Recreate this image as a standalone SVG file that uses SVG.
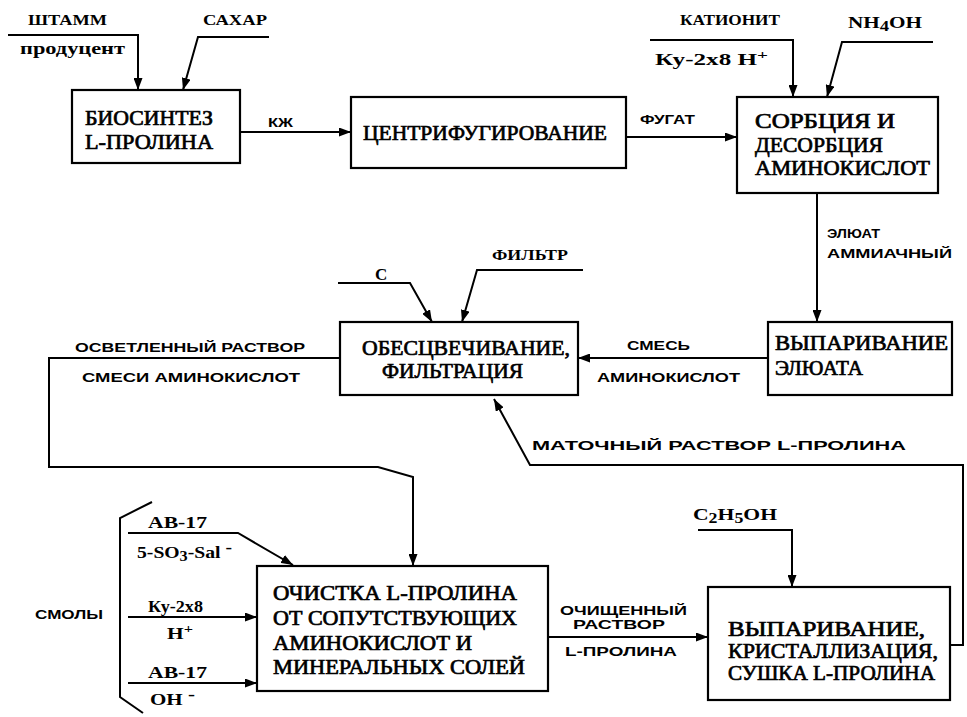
<svg xmlns="http://www.w3.org/2000/svg" width="967" height="717" viewBox="0 0 967 717">
<defs>
<marker id="ah" markerUnits="userSpaceOnUse" markerWidth="13" markerHeight="9" refX="12" refY="4.5" orient="auto">
<path d="M0,0 L12,4.5 L0,9 z" fill="#000"/>
</marker>
<style>
.box{fill:#fff;stroke:#000;stroke-width:2.2}
.ln{fill:none;stroke:#000;stroke-width:2}
.arr{fill:none;stroke:#000;stroke-width:2;marker-end:url(#ah)}
.bt{font-family:"Liberation Serif",serif;font-weight:normal;font-size:21px;fill:#000;stroke:#000;stroke-width:0.7}
.ss{font-family:"Liberation Sans",sans-serif;font-weight:bold;font-size:13px;fill:#000}
.sr{font-family:"Liberation Serif",serif;font-weight:bold;font-size:17px;fill:#000}
.sm{font-family:"Liberation Serif",serif;font-weight:bold;font-size:15px;fill:#000}
</style>
</defs>
<rect width="967" height="717" fill="#fff"/>

<g id="connectors">
<polyline class="arr" points="8,35 138,35 138,90"/>
<polyline class="arr" points="269,37 198,37 183,90"/>
<line class="arr" x1="240" y1="132" x2="351" y2="132"/>
<line class="arr" x1="626" y1="137" x2="737" y2="137"/>
<polyline class="arr" points="650,40 793,40 793,97"/>
<polyline class="arr" points="933,42 842,42 827,97"/>
<line class="arr" x1="817" y1="193" x2="817" y2="322"/>
<line class="arr" x1="768" y1="358" x2="578" y2="358"/>
<polyline class="arr" points="338,283 410,283 432,322"/>
<polyline class="arr" points="583,270 477,270 462,322"/>
<polyline class="arr" points="340,358 49,358 49,467 378,467 413,477 413,566"/>
<polyline class="arr" points="128,533 238,533 293,565"/>
<line class="arr" x1="128" y1="617" x2="257" y2="617"/>
<line class="arr" x1="128" y1="683" x2="257" y2="683"/>
<polyline class="ln" points="152,502 120,518 120,697 143,713"/>
<line class="arr" x1="548" y1="637" x2="708" y2="637"/>
<polyline class="arr" points="698,530 792,530 792,587"/>
<polyline class="arr" points="950,645 963,645 963,465 530,465 494,399"/>

<text class="sm" x="28" y="25" textLength="79" lengthAdjust="spacingAndGlyphs">ШТАММ</text>
<text class="sr" x="20" y="54" textLength="105" lengthAdjust="spacingAndGlyphs">продуцент</text>
<text class="sm" x="203" y="25" textLength="64" lengthAdjust="spacingAndGlyphs">САХАР</text>
<text class="ss" x="268" y="127" font-size="12" textLength="25" lengthAdjust="spacingAndGlyphs">КЖ</text>
<text class="ss" x="640" y="124" font-size="12" textLength="55" lengthAdjust="spacingAndGlyphs">ФУГАТ</text>
<text class="sm" x="680" y="25" textLength="100" lengthAdjust="spacingAndGlyphs">КАТИОНИТ</text>
<text class="sr" x="655" y="65" font-size="18" textLength="113" lengthAdjust="spacingAndGlyphs">Ку-2х8  Н<tspan dy="-6" font-size="13">+</tspan></text>
<text class="sr" x="848" y="28" font-size="19" font-weight="normal" textLength="74" lengthAdjust="spacingAndGlyphs">NH<tspan dy="3" font-size="15">4</tspan><tspan dy="-3">OH</tspan></text>
<text class="ss" x="827" y="238" textLength="53" lengthAdjust="spacingAndGlyphs">ЭЛЮАТ</text>
<text class="ss" x="827" y="258" textLength="125" lengthAdjust="spacingAndGlyphs">АММИАЧНЫЙ</text>
<text class="sr" x="375" y="280">С</text>
<text class="sm" x="492" y="260" textLength="76" lengthAdjust="spacingAndGlyphs">ФИЛЬТР</text>
<text class="ss" x="75" y="352" textLength="230" lengthAdjust="spacingAndGlyphs">ОСВЕТЛЕННЫЙ  РАСТВОР</text>
<text class="ss" x="82" y="382" textLength="218" lengthAdjust="spacingAndGlyphs">СМЕСИ  АМИНОКИСЛОТ</text>
<text class="ss" x="627" y="350" textLength="63" lengthAdjust="spacingAndGlyphs">СМЕСЬ</text>
<text class="ss" x="597" y="382" textLength="143" lengthAdjust="spacingAndGlyphs">АМИНОКИСЛОТ</text>
<text class="ss" x="532" y="450" textLength="374" lengthAdjust="spacingAndGlyphs">МАТОЧНЫЙ  РАСТВОР   L-ПРОЛИНА</text>
<text class="ss" x="35" y="619" textLength="68" lengthAdjust="spacingAndGlyphs">СМОЛЫ</text>
<text class="sr" x="148" y="528" font-weight="normal" textLength="59" lengthAdjust="spacingAndGlyphs">АВ-17</text>
<text class="sr" x="137" y="558" font-weight="normal" textLength="95" lengthAdjust="spacingAndGlyphs">5-SO<tspan dy="3" font-size="14">3</tspan><tspan dy="-3">-Sal </tspan><tspan dy="-5">-</tspan></text>
<text class="sr" x="148" y="612" font-weight="normal" textLength="55" lengthAdjust="spacingAndGlyphs">Ку-2х8</text>
<text class="sr" x="167" y="639" font-weight="normal" textLength="26" lengthAdjust="spacingAndGlyphs">Н<tspan dy="-6" font-size="13">+</tspan></text>
<text class="sr" x="148" y="678" font-weight="normal" textLength="59" lengthAdjust="spacingAndGlyphs">АВ-17</text>
<text class="sr" x="150" y="705" font-weight="normal" textLength="45" lengthAdjust="spacingAndGlyphs">ОН <tspan dy="-5">-</tspan></text>
<text class="ss" x="560" y="615" font-size="11" textLength="127" lengthAdjust="spacingAndGlyphs">ОЧИЩЕННЫЙ</text>
<text class="ss" x="573" y="629" font-size="11" textLength="92" lengthAdjust="spacingAndGlyphs">РАСТВОР</text>
<text class="ss" x="565" y="656" font-size="12" textLength="112" lengthAdjust="spacingAndGlyphs">L-ПРОЛИНА</text>
<text class="sr" x="693" y="520" font-size="19" font-weight="normal" textLength="84" lengthAdjust="spacingAndGlyphs">C<tspan dy="3" font-size="14">2</tspan><tspan dy="-3">H</tspan><tspan dy="3" font-size="14">5</tspan><tspan dy="-3">OH</tspan></text>
</g>

<g id="n1">
<rect class="box" x="72" y="90" width="168" height="73"/>
<text class="bt" x="85" y="125" textLength="128" lengthAdjust="spacingAndGlyphs">БИОСИНТЕЗ</text>
<text class="bt" x="85" y="149" textLength="128" lengthAdjust="spacingAndGlyphs">L-ПРОЛИНА</text>
</g>
<g id="n2">
<rect class="box" x="351" y="97" width="275" height="71"/>
<text class="bt" x="363" y="140" textLength="244" lengthAdjust="spacingAndGlyphs">ЦЕНТРИФУГИРОВАНИЕ</text>
</g>
<g id="n3">
<rect class="box" x="737" y="97" width="201" height="96"/>
<text class="bt" x="755" y="128" textLength="140" lengthAdjust="spacingAndGlyphs">СОРБЦИЯ  И</text>
<text class="bt" x="755" y="152" textLength="128" lengthAdjust="spacingAndGlyphs">ДЕСОРБЦИЯ</text>
<text class="bt" x="755" y="175" textLength="175" lengthAdjust="spacingAndGlyphs">АМИНОКИСЛОТ</text>
</g>
<g id="n4">
<rect class="box" x="768" y="322" width="184" height="73"/>
<text class="bt" x="775" y="350" textLength="173" lengthAdjust="spacingAndGlyphs">ВЫПАРИВАНИЕ</text>
<text class="bt" x="775" y="375" textLength="88" lengthAdjust="spacingAndGlyphs">ЭЛЮАТА</text>
</g>
<g id="n5">
<rect class="box" x="340" y="322" width="238" height="73"/>
<text class="bt" x="362" y="355" textLength="208" lengthAdjust="spacingAndGlyphs">ОБЕСЦВЕЧИВАНИЕ,</text>
<text class="bt" x="382" y="378" textLength="141" lengthAdjust="spacingAndGlyphs">ФИЛЬТРАЦИЯ</text>
</g>
<g id="n6">
<rect class="box" x="257" y="566" width="291" height="125"/>
<text class="bt" x="273" y="600" textLength="244" lengthAdjust="spacingAndGlyphs">ОЧИСТКА  L-ПРОЛИНА</text>
<text class="bt" x="273" y="625" textLength="244" lengthAdjust="spacingAndGlyphs">ОТ СОПУТСТВУЮЩИХ</text>
<text class="bt" x="273" y="650" textLength="199" lengthAdjust="spacingAndGlyphs">АМИНОКИСЛОТ  И</text>
<text class="bt" x="273" y="674" textLength="252" lengthAdjust="spacingAndGlyphs">МИНЕРАЛЬНЫХ СОЛЕЙ</text>
</g>
<g id="n7">
<rect class="box" x="708" y="587" width="242" height="113"/>
<text class="bt" x="728" y="636" font-size="19" textLength="197" lengthAdjust="spacingAndGlyphs">ВЫПАРИВАНИЕ,</text>
<text class="bt" x="728" y="658" font-size="19" textLength="210" lengthAdjust="spacingAndGlyphs">КРИСТАЛЛИЗАЦИЯ,</text>
<text class="bt" x="728" y="680" font-size="19" textLength="207" lengthAdjust="spacingAndGlyphs">СУШКА  L-ПРОЛИНА</text>
</g>
</svg>
